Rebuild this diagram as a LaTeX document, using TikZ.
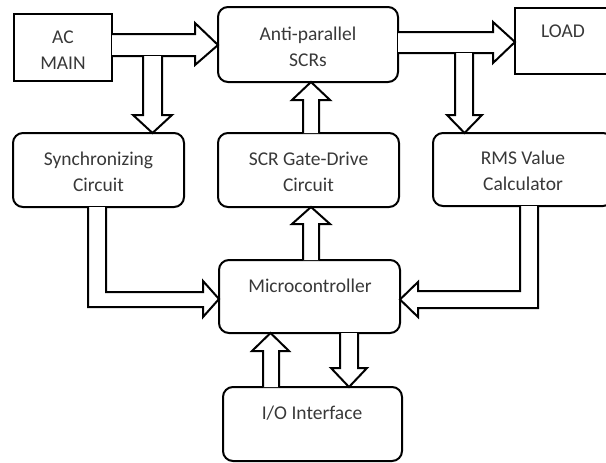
\documentclass[tikz,border=0pt]{standalone}
\usepackage{fontspec}
\setmainfont{Carlito}
\begin{document}
\begin{tikzpicture}[x=1pt,y=-1pt,
  box/.style={draw=black,line width=2pt,rounded corners=10pt,inner sep=0pt},
  sqbox/.style={draw=black,line width=2pt,inner sep=0pt},
  txt/.style={text=black!78,font=\fontsize{19.5}{26}\selectfont,align=center,inner sep=0pt},
  barrow/.style={draw=black,fill=white,line width=2pt,line join=miter}]
\useasboundingbox (0,0) rectangle (606,463);
% boxes
\node[sqbox,minimum width=98pt,minimum height=67pt] (ac) at (63,47.5) {};
\node[box,minimum width=180pt,minimum height=75pt] (scr) at (308,44.5) {};
\node[sqbox,minimum width=110pt,minimum height=66pt] (load) at (570,41) {};
\node[box,minimum width=171pt,minimum height=74pt] (sync) at (98.5,170) {};
\node[box,minimum width=181pt,minimum height=74pt] (gate) at (308.5,170) {};
\node[box,minimum width=180pt,minimum height=73pt] (rms) at (523,169.5) {};
\node[box,minimum width=181pt,minimum height=73pt] (micro) at (309.5,296.5) {};
\node[box,minimum width=179pt,minimum height=74pt] (io) at (312.5,424) {};
% texts
\node[txt] (tac) at (63,50) {AC\\MAIN};
\node[txt] (tscr) at (308,47) {Anti-parallel\\SCRs};
\node[txt] (tload) at (563,31) {LOAD};
\node[txt] (tsync) at (98.5,172) {Synchronizing\\Circuit};
\node[txt] (tgate) at (308.5,172) {SCR Gate-Drive\\Circuit};
\node[txt] (trms) at (523,171) {RMS Value\\Calculator};
\node[txt] (tmicro) at (310,286) {Microcontroller};
\node[txt] (tio) at (312,413) {I/O Interface};
% block arrows
% AC -> SCRs
\draw[barrow] (112,34) -- (195,34) -- (195,23) -- (218,45) -- (195,65) -- (195,56) -- (112,56);
% AC -> Sync
\draw[barrow] (143,56) -- (143,115) -- (133,115) -- (152.5,133) -- (172,115) -- (162,115) -- (162,56);
% SCRs -> LOAD
\draw[barrow] (398,32) -- (493,32) -- (493,22) -- (515,42) -- (493,63) -- (493,53) -- (398,53);
% SCR -> RMS
\draw[barrow] (455,53) -- (455,115) -- (447,115) -- (464.5,133) -- (482,115) -- (473,115) -- (473,53);
% Gate -> SCRs
\draw[barrow] (303,133) -- (303,100) -- (292,100) -- (311,82) -- (330,100) -- (319,100) -- (319,133);
% Micro -> Gate
\draw[barrow] (303,260) -- (303,224) -- (292,224) -- (311,207) -- (330,224) -- (319,224) -- (319,260);
% Sync -> Micro
\draw[barrow] (88,207) -- (88,307) -- (203,307) -- (203,317) -- (219,299) -- (203,281) -- (203,292) -- (106,292) -- (106,207);
% RMS -> Micro
\draw[barrow] (538,206) -- (538,308) -- (418,308) -- (418,317) -- (400,299.5) -- (418,282) -- (418,291) -- (520,291) -- (520,206);
% IO -> Micro
\draw[barrow] (263,387) -- (263,351) -- (252,351) -- (270.5,333) -- (289,351) -- (279,351) -- (279,387);
% Micro -> IO
\draw[barrow] (340,333) -- (340,368) -- (331,368) -- (349,387) -- (367,368) -- (358,368) -- (358,333);
\end{tikzpicture}
\end{document}
